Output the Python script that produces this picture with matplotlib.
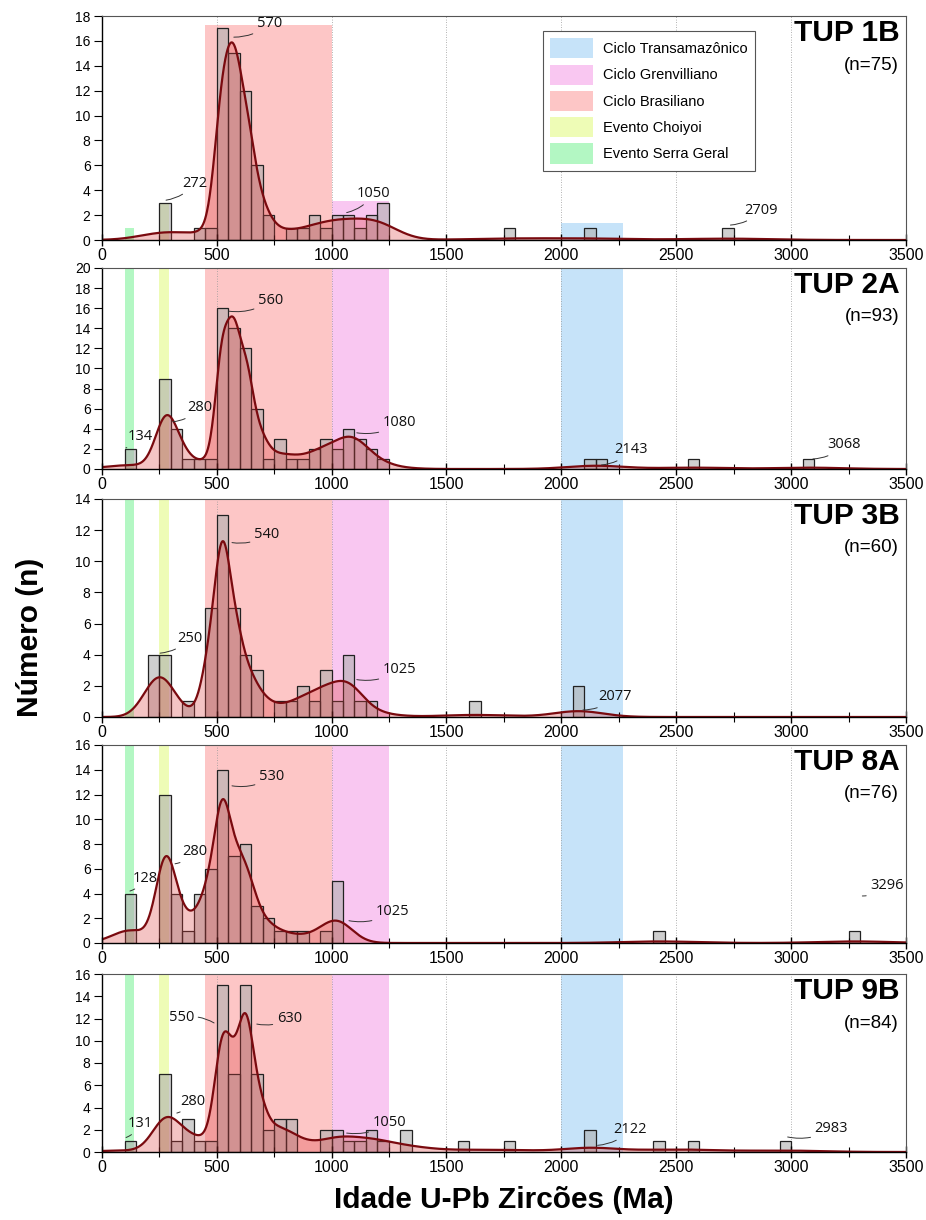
import numpy as np
import matplotlib
matplotlib.use('Agg')
from matplotlib import pyplot as plt
import matplotlib.patches as mpatches

plt.rcParams['font.family'] = ['Liberation Sans', 'DejaVu Sans']

BIN = 50  # largura das classes (Ma)

tup1b_bins = [250, 400, 450, 500, 550, 600, 650, 700, 800, 850, 900, 950, 1000, 1050, 1100, 1150, 1200, 1750, 2100, 2700]
tup1b_counts = [3, 1, 1, 17, 15, 12, 6, 2, 1, 1, 2, 1, 2, 2, 1, 2, 3, 1, 1, 1]
tup1b_peaks = [272, 570, 1050, 2709]

tup2a_bins = [100, 250, 300, 350, 400, 450, 500, 550, 600, 650, 700, 750, 800, 850, 900, 950, 1000, 1050, 1100, 1150, 1200, 2100, 2150, 2550, 3050]
tup2a_counts = [2, 9, 4, 1, 1, 1, 16, 14, 12, 6, 1, 3, 1, 1, 2, 3, 2, 4, 3, 2, 1, 1, 1, 1, 1]
tup2a_peaks = [134, 280, 560, 1080, 2143, 3068]

tup3b_bins = [200, 250, 350, 450, 500, 550, 600, 650, 750, 800, 850, 900, 950, 1000, 1050, 1100, 1150, 1600, 2050]
tup3b_counts = [4, 4, 1, 7, 13, 7, 4, 3, 1, 1, 2, 1, 3, 1, 4, 1, 1, 1, 2]
tup3b_peaks = [250, 540, 1025, 2077]

tup8a_bins = [100, 250, 300, 350, 400, 450, 500, 550, 600, 650, 700, 750, 800, 850, 950, 1000, 2400, 3250]
tup8a_counts = [4, 12, 4, 1, 4, 6, 14, 7, 8, 3, 2, 1, 1, 1, 1, 5, 1, 1]
tup8a_peaks = [128, 280, 530, 1025, 3296]

tup9b_bins = [100, 250, 300, 350, 400, 450, 500, 550, 600, 650, 700, 750, 800, 950, 1000, 1050, 1100, 1150, 1200, 1300, 1550, 1750, 2100, 2400, 2550, 2950]
tup9b_counts = [1, 7, 1, 3, 1, 1, 15, 7, 15, 7, 2, 3, 3, 2, 2, 1, 1, 2, 1, 2, 1, 1, 2, 1, 1, 1]
tup9b_peaks = [131, 280, 550, 630, 1050, 2122, 2983]

sample_names = ['TUP 1B', 'TUP 2A', 'TUP 3B', 'TUP 8A', 'TUP 9B']
sample_n = [75, 93, 60, 76, 84]
y_max = [18, 20, 14, 16, 16]

band_names = ['Ciclo Transamazônico', 'Ciclo Grenvilliano', 'Ciclo Brasiliano', 'Evento Choiyoi', 'Evento Serra Geral']
band_ranges = [(2000, 2270), (1000, 1250), (450, 1000), (250, 295), (100, 140)]
band_colors = ['#c6e3f9', '#f9c7f1', '#fdc6c6', '#eefcb6', '#b3f7c3']
tup1b_band_tops = [1.4, 3.1, 17.3, 3.0, 0.95]

# --- layout (pixels de 926x1220) ---
W, H = 926, 1220
x0, x1 = 101.7, 906
panel_px = [(16, 240), (268, 469), (499, 717), (745, 943), (974, 1152)]
bandwidth = [50, 44, 50, 47, 51]

# posicao dos rotulos dos picos: (inicio da linha: idade, valor), deslocamento do texto em px, alinhamento
label_layout = [
    [(280, 3.2, 16, 17, 'left'), (575, 16.3, 23, 14, 'left'), (1066, 2.2, 10, 19, 'left'), (2736, 1.2, 14, 15, 'left')],
    [(105, 2.1, 2, 11, 'left'), (310, 4.7, 14, 14, 'left'), (554, 15.7, 29, 11, 'left'), (1110, 3.6, 26, 10, 'left'),
     (2175, 0.4, 13, 15, 'left'), (3095, 1.0, 14, 14, 'left')],
    [(254, 4.1, 17, 15, 'left'), (567, 11.2, 22, 8, 'left'), (1110, 2.4, 26, 10, 'left'), (2094, 0.45, 15, 13, 'left')],
    [(123, 4.2, 3, 13, 'left'), (319, 6.4, 7, 12, 'left'), (567, 12.7, 27, 9, 'left'), (1076, 1.8, 27, 9, 'left'),
     (3310, 3.8, 8, 10, 'left')],
    [(106, 1.3, 2, 14, 'left'), (327, 3.5, 3, 12, 'left'), (489, 11.6, -20, 5, 'right'), (675, 11.5, 20, 6, 'left'),
     (1066, 1.7, 26, 11, 'left'), (2158, 0.6, 16, 16, 'left'), (2985, 1.35, 27, 8, 'left')],
]

all_bins = [tup1b_bins, tup2a_bins, tup3b_bins, tup8a_bins, tup9b_bins]
all_counts = [tup1b_counts, tup2a_counts, tup3b_counts, tup8a_counts, tup9b_counts]
all_peaks = [tup1b_peaks, tup2a_peaks, tup3b_peaks, tup8a_peaks, tup9b_peaks]


def adaptive_kde(ages, grid, h0):
    # KDE adaptativa (Abramson): banda menor onde ha mais graos
    def gauss(x, mu, h):
        return np.exp(-0.5 * ((x[:, None] - mu[None, :]) / h[None, :]) ** 2) / (np.sqrt(2 * np.pi) * h[None, :])
    pilot = gauss(ages, ages, np.full(len(ages), h0)).mean(axis=1)
    g = np.exp(np.mean(np.log(pilot)))
    h = h0 * np.sqrt(g / pilot)
    return gauss(grid, ages, h).mean(axis=1)


fig = plt.figure(figsize=(W / 100, H / 100), dpi=100)
grid = np.linspace(0, 3600, 1801)

for k in range(5):
    top, bot = panel_px[k]
    ax = fig.add_axes([x0 / W, 1 - bot / H, (x1 - x0) / W, (bot - top) / H])
    ax.set_xlim(0, 3500)
    ax.set_ylim(0, y_max[k])

    for j, (a, b) in enumerate(band_ranges):
        hgt = tup1b_band_tops[j] if k == 0 else y_max[k]
        ax.add_patch(mpatches.Rectangle((a, 0), b - a, hgt, facecolor=band_colors[j], edgecolor='none', zorder=0))

    for xv in range(500, 3500, 500):
        ax.axvline(xv, color='#999999', lw=0.6, ls=(0, (1, 2)), zorder=0.5)

    bins = np.array(all_bins[k])
    counts = np.array(all_counts[k])
    ax.bar(bins, counts, width=BIN, align='edge', facecolor='#b0b0b0', alpha=0.6,
           edgecolor='none', linewidth=0, zorder=1)
    ax.bar(bins, counts, width=BIN, align='edge', facecolor='none',
           edgecolor='#222222', linewidth=0.9, zorder=1.1)

    ages = np.repeat(bins + BIN / 2.0, counts).astype(float)
    curve = adaptive_kde(ages, grid, bandwidth[k]) * len(ages) * BIN
    ax.fill_between(grid, 0, curve, color='#dc3c3c', alpha=0.3, lw=0, zorder=2)
    ax.plot(grid, curve, color='#7a0a0f', lw=1.6, zorder=3)

    for pk, (sx, sy, dx, dy, ha) in zip(all_peaks[k], label_layout[k]):
        ax.annotate(str(pk), xy=(sx, sy), xytext=(dx * 0.72, dy * 0.72), textcoords='offset points',
                    ha=ha, va='center', fontsize=10.5, family=['Open Sans', 'DejaVu Sans'], color='#111111',
                    arrowprops=dict(arrowstyle='-', color='#333333', lw=0.7, shrinkA=1, shrinkB=0,
                                    connectionstyle='arc3,rad=-0.2'), zorder=5)

    ax.annotate(sample_names[k], xy=(1, 1), xycoords='axes fraction', xytext=(-6 * 0.72, -3 * 0.72),
                textcoords='offset points', ha='right', va='top', fontsize=21.5, fontweight='bold', zorder=6)
    ax.annotate('(n=%d)' % sample_n[k], xy=(1, 1), xycoords='axes fraction', xytext=(-7 * 0.72, -49 * 0.72),
                textcoords='offset points', ha='right', va='center', fontsize=13.5, zorder=6)

    ax.set_xticks(range(0, 3501, 500))
    ax.set_xticks(range(250, 3500, 500), minor=True)
    ax.set_yticks(range(0, y_max[k] + 1, 2))
    ax.tick_params(axis='x', which='major', direction='inout', length=9, width=1, labelsize=11.5, pad=1)
    ax.tick_params(axis='x', which='minor', direction='inout', length=7, width=0.8)
    ax.tick_params(axis='y', direction='out', length=6, width=0.8, labelsize=10, pad=2)
    for s in ['top', 'right']:
        ax.spines[s].set_color('#555555')
        ax.spines[s].set_linewidth(0.8)
    ax.spines['left'].set_linewidth(1.0)
    ax.spines['bottom'].set_linewidth(1.0)
    for s in ax.spines.values():
        s.set_zorder(4)

    if k == 0:
        handles = [mpatches.Patch(facecolor=c, edgecolor='none', label=n) for n, c in zip(band_names, band_colors)]
        leg = ax.legend(handles=handles, loc='upper left', bbox_to_anchor=((543 - x0) / (x1 - x0), 1 - (31 - top) / (bot - top)),
                        fontsize=10.5, frameon=True, fancybox=False, edgecolor='#555555', framealpha=1,
                        handlelength=2.9, handleheight=1.75, labelspacing=0.42, handletextpad=0.7,
                        borderpad=0.5, borderaxespad=0)
        leg.get_frame().set_linewidth(0.8)
        leg.set_zorder(7)

fig.text(30 / W, 1 - 637 / H, 'Número (n)', rotation=90, ha='center', va='center', fontsize=21.5, fontweight='bold')
fig.text(504 / W, 1 - 1200 / H, 'Idade U-Pb Zircões (Ma)', ha='center', va='center', fontsize=21.5, fontweight='bold')

fig.savefig('out.png', dpi=100)
